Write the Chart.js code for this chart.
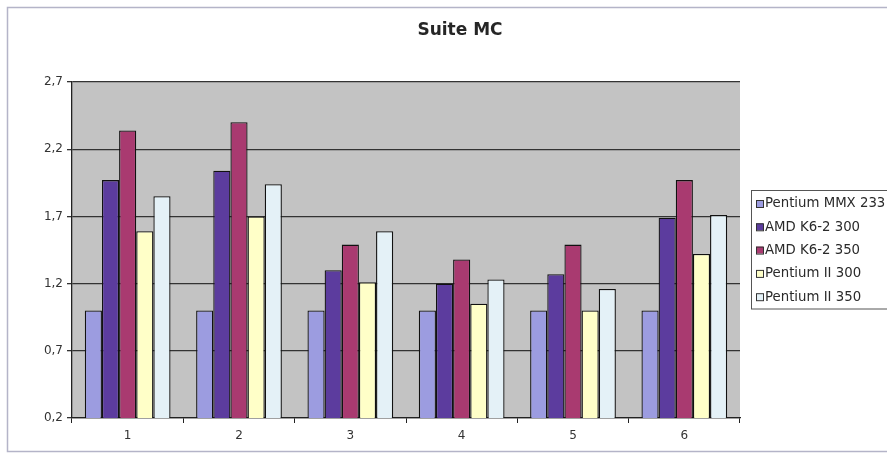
<!DOCTYPE html>
<html>
<head>
<meta charset="utf-8">
<title>Suite MC</title>
<script src="https://cdn.jsdelivr.net/npm/chart.js@4.4.1/dist/chart.umd.min.js"></script>
<style>
    html, body { margin: 0; padding: 0; background: #ffffff; }
    #wrap { width: 887px; height: 459px; position: relative; }
</style>
</head>
<body>
<div id="wrap"><canvas id="chart"></canvas></div>
<script>
// Données du graphique "Suite MC"
const chartTitle = 'Suite MC';
const categories = ['1', '2', '3', '4', '5', '6'];

const seriesNames = ['Pentium MMX 233', 'AMD K6-2 300', 'AMD K6-2 350', 'Pentium II 300', 'Pentium II 350'];
const seriesColors = ['#9c9ce0', '#5c3c9e', '#a93a70', '#ffffc8', '#e4f1f7'];

const pentiumMMX233 = [1.0, 1.0, 1.0, 1.0, 1.0, 1.0];
const amdK62_300 = [1.97, 2.04, 1.30, 1.20, 1.27, 1.69];
const amdK62_350 = [2.34, 2.40, 1.49, 1.38, 1.49, 1.97];
const pentiumII300 = [1.59, 1.70, 1.21, 1.05, 1.00, 1.42];
const pentiumII350 = [1.85, 1.94, 1.59, 1.23, 1.16, 1.71];

const seriesValues = [pentiumMMX233, amdK62_300, amdK62_350, pentiumII300, pentiumII350];

const yMin = 0.2;
const yMax = 2.7;
const yStep = 0.5;

const textFont = 'DejaVu Sans';

// Fond gris de la zone de tracé + cadre du graphique
const plotBackground = {
    id: 'plotBackground',
    beforeDraw(chart) {
        const { ctx, chartArea } = chart;
        ctx.save();
        ctx.strokeStyle = '#b4b4c8';
        ctx.lineWidth = 1.5;
        ctx.strokeRect(7.5, 7.5, 900, 444);
        ctx.fillStyle = '#c3c3c3';
        ctx.fillRect(chartArea.left, chartArea.top, chartArea.right - chartArea.left, chartArea.bottom - chartArea.top);
        ctx.restore();
    }
};

// Titre centré comme dans Excel
const excelTitle = {
    id: 'excelTitle',
    afterDraw(chart) {
        const { ctx } = chart;
        ctx.save();
        ctx.font = `bold 17px "${textFont}"`;
        ctx.fillStyle = '#262626';
        ctx.textAlign = 'center';
        ctx.textBaseline = 'middle';
        ctx.fillText(chartTitle, 460, 31);
        ctx.restore();
    }
};

// Légende encadrée à droite
const boxedLegend = {
    id: 'boxedLegend',
    afterDraw(chart) {
        const { ctx } = chart;
        const left = 751;
        const top = 190;
        const lineHeight = 23.3;
        const datasets = chart.data.datasets;
        ctx.save();
        ctx.strokeStyle = '#555555';
        ctx.lineWidth = 1;
        ctx.strokeRect(left + 0.5, top + 0.5, 200, lineHeight * datasets.length + 2);
        ctx.font = `13.3px "${textFont}"`;
        ctx.textBaseline = 'middle';
        datasets.forEach((ds, i) => {
            const y = top + 14 + i * lineHeight;
            ctx.fillStyle = ds.backgroundColor;
            ctx.fillRect(left + 5, y - 4, 7, 7);
            ctx.strokeStyle = '#333333';
            ctx.strokeRect(left + 5.5, y - 3.5, 7, 7);
            ctx.fillStyle = '#2a2a2a';
            ctx.fillText(ds.label, left + 14, y);
        });
        ctx.restore();
    }
};

const datasets = seriesNames.map((name, i) => ({
    label: name,
    data: seriesValues[i],
    backgroundColor: seriesColors[i],
    borderColor: '#111111',
    borderWidth: 1.3,
    borderSkipped: false,
    categoryPercentage: 0.77,
    barPercentage: 1.0
}));

new Chart(document.getElementById('chart'), {
    type: 'bar',
    data: {
        labels: categories,
        datasets: datasets
    },
    options: {
        responsive: true,
        maintainAspectRatio: false,
        animation: false,
        layout: {
            padding: { top: 82, left: 10, right: 147, bottom: 7 }
        },
        plugins: {
            legend: { display: false },
            title: { display: false },
            tooltip: { enabled: false }
        },
        scales: {
            x: {
                afterFit(scale) { scale.height = 34; },
                grid: {
                    offset: true,
                    drawOnChartArea: false,
                    tickLength: 5,
                    color: '#222222'
                },
                border: { color: '#222222', width: 1.3 },
                ticks: {
                    color: '#333333',
                    font: { family: textFont, size: 12 },
                    padding: 6
                }
            },
            y: {
                min: yMin,
                max: yMax,
                afterFit(scale) { scale.width = 62; },
                grid: {
                    color: '#333333',
                    lineWidth: 1.3,
                    tickLength: 5
                },
                border: { color: '#222222', width: 1.3 },
                ticks: {
                    stepSize: yStep,
                    color: '#333333',
                    font: { family: textFont, size: 12 },
                    padding: 4,
                    callback: (value) => value.toFixed(1).replace('.', ',')
                }
            }
        }
    },
    plugins: [plotBackground, excelTitle, boxedLegend]
});
</script>
</body>
</html>
